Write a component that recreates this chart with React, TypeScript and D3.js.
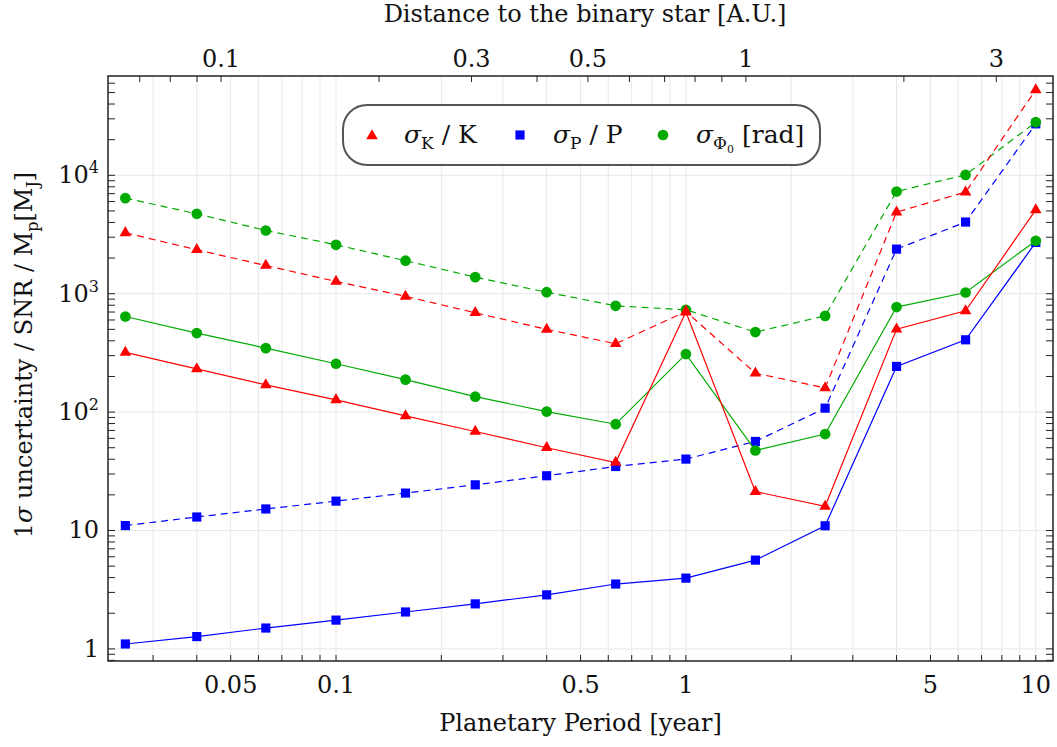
import React from 'react';
import * as d3 from 'd3';

// planetary periods in years (bottom axis)
const periods = [0.025, 0.04, 0.063, 0.1, 0.158, 0.25, 0.4, 0.63, 1, 1.58, 2.5, 4, 6.3, 10];

// sigma_K / K
const kDashed = [3270, 2350, 1730, 1270, 950, 690, 500, 378, 707, 213, 160, 4890, 7210, 52700];
const kSolid = [319, 232, 170, 127, 93, 68.6, 50, 37.5, 700, 21.3, 16, 502, 717, 5110];
// sigma_P / P
const pDashed = [11.0, 13.0, 15.2, 17.7, 20.7, 24.3, 29, 34.7, 40.1, 56.5, 108, 2380, 4030, 27200];
const pSolid = [1.1, 1.27, 1.5, 1.75, 2.05, 2.4, 2.86, 3.53, 3.96, 5.62, 10.96, 243, 408, 2710];
// sigma_Phi0 [rad]
const phiDashed = [6420, 4730, 3420, 2590, 1900, 1380, 1030, 790, 731, 474, 650, 7300, 10090, 28100];
const phiSolid = [642, 465, 347, 256, 188, 135, 101, 79, 309, 47.4, 65.2, 771, 1024, 2800];

const bottomLabels = [0.05, 0.1, 0.5, 1, 5, 10];
const topLabels = [0.1, 0.3, 0.5, 1, 3];
const yMajors = [1, 10, 100, 1000, 10000];

// total mass of binary (solar masses) used for distance axis
const binaryMass = 0.454;

const RED = '#ff0000';
const BLUE = '#0000ff';
const GREEN = '#00aa00';
const FONT = "'DejaVu Serif', 'Liberation Serif', serif";

const W = 1057;
const H = 747;
const L = 108, R = 1053, T = 76, B = 661;

const toAU = (p: number) => Math.cbrt(binaryMass * p * p);

export default function App() {
  const x = d3.scaleLog().domain([0.0223, 11.2]).range([L, R]);
  const y = d3.scaleLog().domain([0.79, 69000]).range([B, T]);
  const xTop = d3.scaleLog().domain([toAU(0.0223), toAU(11.2)]).range([L, R]);

  const line = d3.line<number>()
    .x((_, i) => x(periods[i]))
    .y(d => y(d));

  const tri = d3.symbol().type(d3.symbolTriangle).size(58)() as string;
  const sq = d3.symbol().type(d3.symbolSquare).size(84)() as string;
  const circ = d3.symbol().type(d3.symbolCircle).size(90)() as string;

  const series = [
    { vals: pDashed, color: BLUE, dash: '7,5', marker: sq },
    { vals: pSolid, color: BLUE, dash: null, marker: sq },
    { vals: phiDashed, color: GREEN, dash: '7,5', marker: circ },
    { vals: phiSolid, color: GREEN, dash: null, marker: circ },
    { vals: kDashed, color: RED, dash: '7,5', marker: tri },
    { vals: kSolid, color: RED, dash: null, marker: tri },
  ];

  const xt = x.ticks();
  const yt = y.ticks();
  const tt = xTop.ticks();

  const supLabel = (v: number) => {
    if (v === 1) return <tspan>1</tspan>;
    if (v === 10) return <tspan>10</tspan>;
    const e = Math.round(Math.log10(v));
    return (
      <>
        <tspan>10</tspan>
        <tspan dy={-10} fontSize={16}>{e}</tspan>
      </>
    );
  };

  return (
    <svg width={W} height={H} style={{ position: 'absolute', left: 0, top: 0, background: '#fff', fontFamily: FONT }}>
      {/* grid */}
      <g stroke="#e8e8e8" strokeWidth={1}>
        {xt.map((t, i) => <line key={'gx' + i} x1={x(t)} x2={x(t)} y1={T} y2={B} />)}
        {yMajors.map((t, i) => <line key={'gy' + i} x1={L} x2={R} y1={y(t)} y2={y(t)} />)}
      </g>

      {/* series */}
      {series.map((s, si) => (
        <g key={'s' + si}>
          <path d={line(s.vals) as string} fill="none" stroke={s.color} strokeWidth={1.2}
            strokeDasharray={s.dash ?? undefined} />
          {s.vals.map((v, i) => (
            <path key={i} d={s.marker} transform={`translate(${x(periods[i])},${y(v)})`} fill={s.color} />
          ))}
        </g>
      ))}

      {/* frame and ticks */}
      <rect x={L} y={T} width={R - L} height={B - T} fill="none" stroke="#222" strokeWidth={1.5} />
      <g stroke="#222" strokeWidth={1}>
        {xt.map((t, i) => <line key={'bx' + i} x1={x(t)} x2={x(t)} y1={B} y2={B - 6} />)}
        {tt.map((t, i) => <line key={'tx' + i} x1={xTop(t)} x2={xTop(t)} y1={T} y2={T + 6} />)}
        {yt.map((t, i) => <line key={'ly' + i} x1={L} x2={L + 7} y1={y(t)} y2={y(t)} />)}
        {yt.map((t, i) => <line key={'ry' + i} x1={R} x2={R - 7} y1={y(t)} y2={y(t)} />)}
      </g>

      {/* tick labels */}
      <g fontSize={24} fill="#111">
        {bottomLabels.map((t, i) => (
          <text key={'bl' + i} x={x(t)} y={693} textAnchor="middle">{t}</text>
        ))}
        {topLabels.map((t, i) => (
          <text key={'tl' + i} x={xTop(t)} y={67} textAnchor="middle">{t}</text>
        ))}
        {yMajors.map((t, i) => (
          <text key={'yl' + i} x={99} y={y(t) + 8} textAnchor="end">{supLabel(t)}</text>
        ))}
      </g>

      {/* axis titles */}
      <text x={(L + R) / 2} y={731} textAnchor="middle" fontSize={24} fill="#111">Planetary Period [year]</text>
      <text x={585} y={22} textAnchor="middle" fontSize={24} fill="#111">Distance to the binary star [A.U.]</text>
      <text transform="translate(32,355) rotate(-90)" textAnchor="middle" fontSize={24} fill="#111">
        <tspan>1</tspan><tspan fontStyle="italic">σ</tspan><tspan> uncertainty / SNR / M</tspan>
        <tspan fontSize={16} dy={6}>p</tspan><tspan dy={-6}>[M</tspan>
        <tspan fontSize={16} dy={6}>J</tspan><tspan dy={-6}>]</tspan>
      </text>

      {/* legend */}
      <g>
        <rect x={343} y={105} width={477} height={60} rx={24} ry={24} fill="#fff" stroke="#555" strokeWidth={2} />
        <path d={tri} transform="translate(372,136)" fill={RED} />
        <text x={404} y={143} fontSize={25} fill="#111">
          <tspan fontStyle="italic">σ</tspan><tspan fontSize={17} dy={6}>K</tspan><tspan dy={-6}> / K</tspan>
        </text>
        <path d={sq} transform="translate(520,135)" fill={BLUE} />
        <text x={553} y={143} fontSize={25} fill="#111">
          <tspan fontStyle="italic">σ</tspan><tspan fontSize={17} dy={6}>P</tspan><tspan dy={-6}> / P</tspan>
        </text>
        <path d={circ} transform="translate(663,135)" fill={GREEN} />
        <text x={696} y={143} fontSize={25} fill="#111">
          <tspan fontStyle="italic">σ</tspan><tspan fontSize={17} dy={6}>Φ</tspan><tspan fontSize={11} dy={4}>0</tspan>
          <tspan dy={-10}> [rad]</tspan>
        </text>
      </g>
    </svg>
  );
}
